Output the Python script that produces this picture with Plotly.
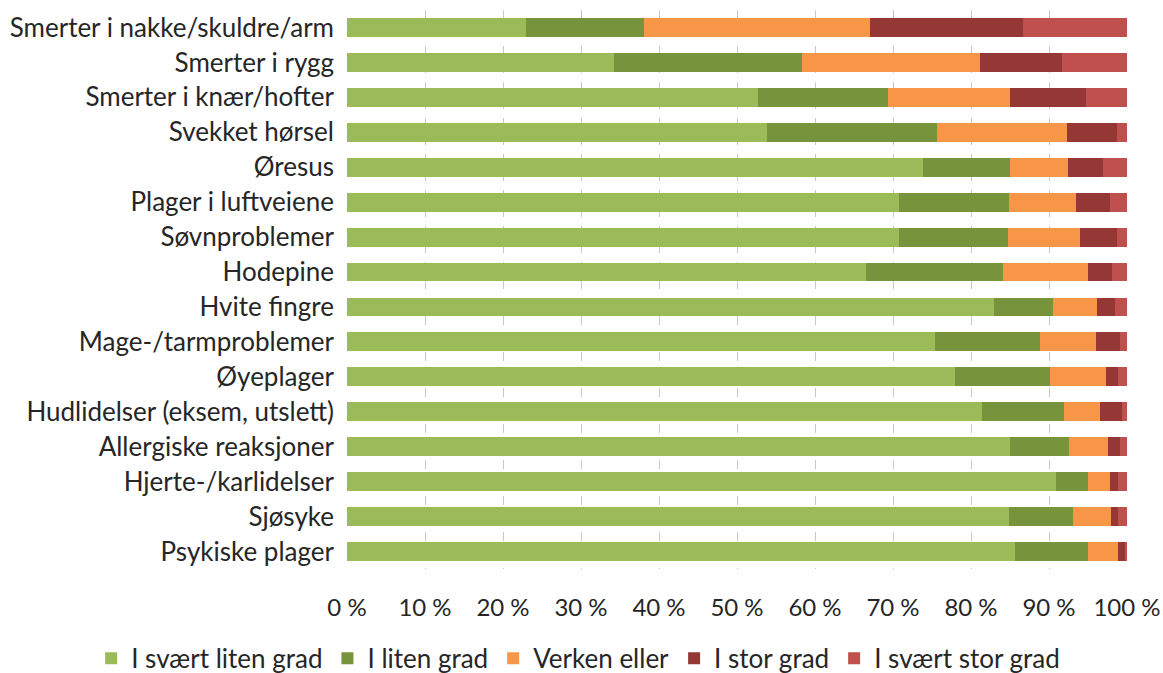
import plotly.graph_objects as go

categories = ["Smerter i nakke/skuldre/arm", "Smerter i rygg", "Smerter i knær/hofter",
              "Svekket hørsel", "Øresus", "Plager i luftveiene", "Søvnproblemer",
              "Hodepine", "Hvite fingre", "Mage-/tarmproblemer", "Øyeplager",
              "Hudlidelser (eksem, utslett)", "Allergiske reaksjoner",
              "Hjerte-/karlidelser", "Sjøsyke", "Psykiske plager"]

svaert_liten = [22.9, 34.2, 52.7, 53.8, 73.9, 70.8, 70.8, 66.6, 82.9, 75.4, 78.0, 81.4, 85.0, 90.9, 84.9, 85.7]
liten = [15.2, 24.1, 16.6, 21.9, 11.1, 14.1, 13.9, 17.5, 7.6, 13.4, 12.1, 10.5, 7.5, 4.1, 8.2, 9.3]
verken = [28.9, 22.8, 15.7, 16.6, 7.4, 8.5, 9.3, 10.9, 5.7, 7.2, 7.2, 4.6, 5.0, 2.8, 4.9, 3.9]
stor = [19.7, 10.6, 9.7, 6.4, 4.5, 4.4, 4.7, 3.1, 2.3, 3.1, 1.6, 2.8, 1.6, 1.1, 0.8, 0.9]
svaert_stor = [13.3, 8.3, 5.3, 1.3, 3.1, 2.2, 1.3, 1.9, 1.5, 0.9, 1.1, 0.7, 0.9, 1.1, 1.2, 0.2]

series_names = ["I svært liten grad", "I liten grad", "Verken eller", "I stor grad", "I svært stor grad"]
series_values = [svaert_liten, liten, verken, stor, svaert_stor]
colors = ["#9BBB59", "#77933C", "#F79646", "#953735", "#C0504D"]

tick_vals = list(range(0, 101, 10))
tick_text = [f"{v} %" for v in tick_vals]

FONT = "Lato, sans-serif"
FS = 26

fig = go.Figure()
for name, vals, col in zip(series_names, series_values, colors):
    fig.add_trace(go.Bar(
        y=categories, x=vals, name=name, orientation="h",
        marker=dict(color=col, line=dict(width=0)),
    ))

fig.update_layout(
    barmode="stack",
    barnorm="percent",
    bargap=0.46,
    width=1163, height=673,
    margin=dict(l=347, r=36, t=10, b=104, autoexpand=False),
    plot_bgcolor="white", paper_bgcolor="white",
    font=dict(family=FONT, size=FS, color="#262626"),
    xaxis=dict(range=[0, 100], tickvals=tick_vals, ticktext=tick_text,
               showgrid=True, gridcolor="#C8C8C8", griddash="dash", gridwidth=1,
               zeroline=False, showline=False, ticks="", ticklabelstandoff=22,
               ticklabeloverflow="allow",
               tickfont=dict(size=24, family=FONT, color="#262626")),
    yaxis=dict(autorange="reversed", showgrid=False, ticks="", showline=False,
               ticklabelstandoff=12,
               tickfont=dict(size=FS, family=FONT, color="#262626")),
    legend=dict(orientation="h", xref="paper", yref="paper",
                x=-0.328, xanchor="left", y=-0.16, yanchor="middle",
                font=dict(size=FS, family=FONT, color="#262626"),
                traceorder="normal", itemwidth=30),
    showlegend=True,
)

fig.write_html("out.html",
               config={"displayModeBar": False},
               post_script="document.body.style.margin='0px';document.body.style.overflow='hidden';")
